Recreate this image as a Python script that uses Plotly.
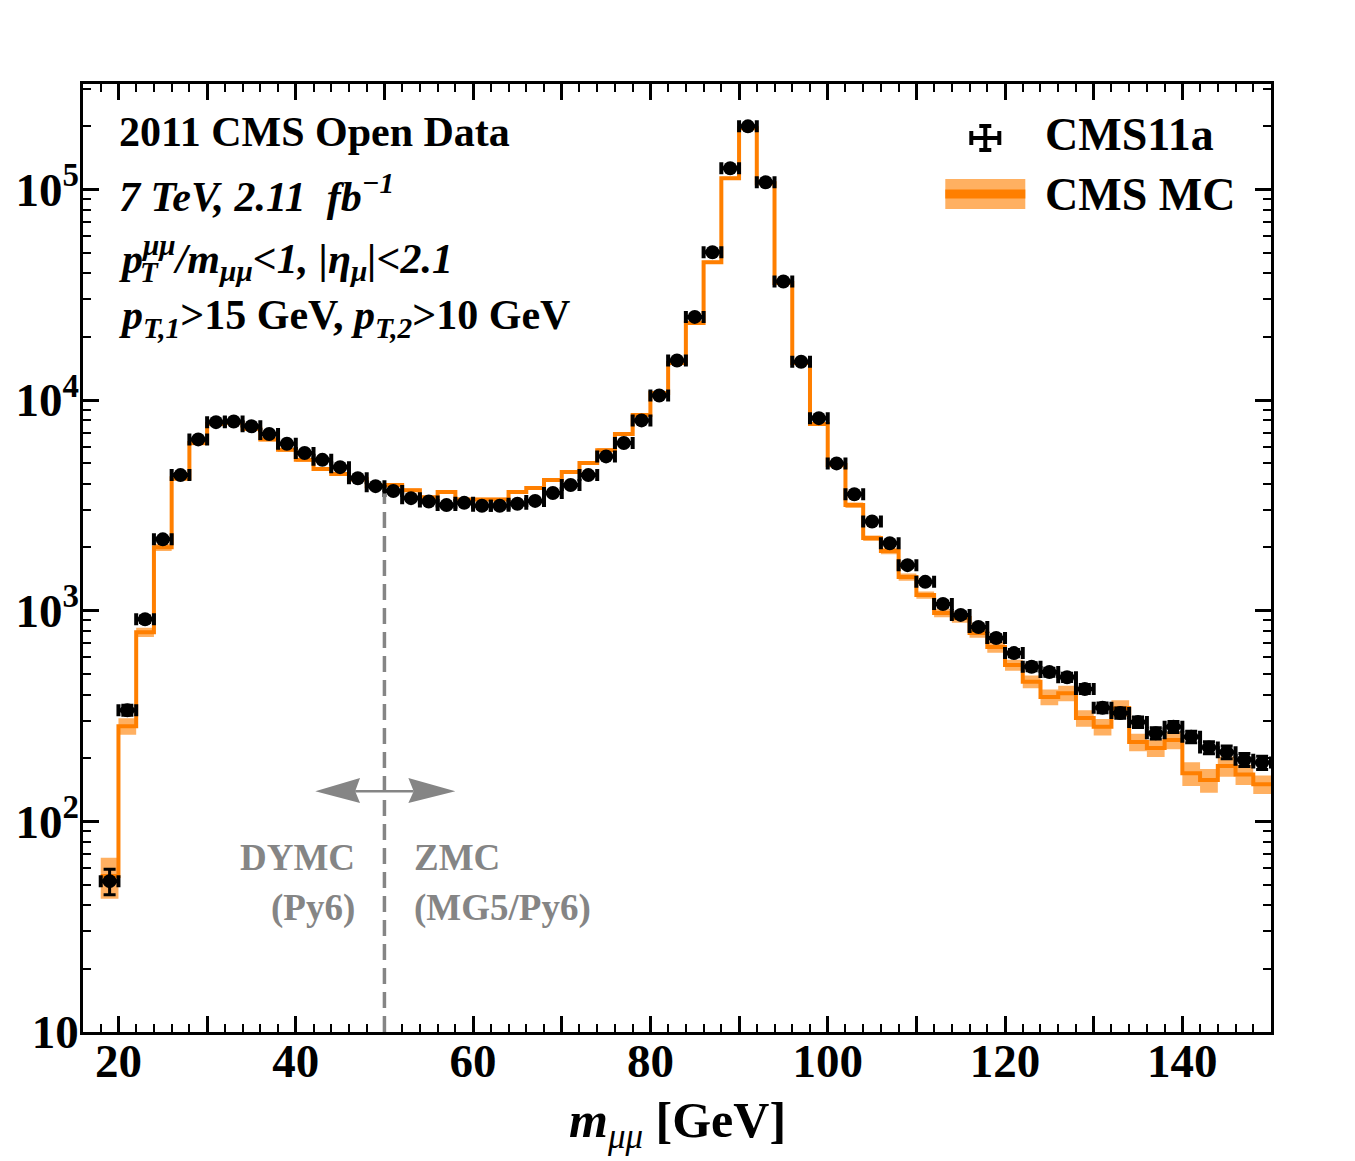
import numpy as np
import plotly.graph_objects as go

# ---------------- data ----------------
bin_edges = list(range(18, 152, 2))          # 18 ... 150 GeV, 2 GeV bins
bin_centers = [e + 1 for e in bin_edges[:-1]]

data_counts = [52, 337, 910, 2180, 4400, 6500, 7850, 7900, 7500, 6900,
               6200, 5600, 5200, 4800, 4250, 3900, 3700, 3420, 3300, 3170,
               3250, 3150, 3150, 3220, 3320, 3620, 3950, 4400, 5400, 6250,
               8000, 10500, 15400, 24800, 50300, 126000, 199000, 108000, 36500, 15200,
               8200, 5000, 3570, 2650, 2090, 1645, 1370, 1075, 955, 836,
               742, 629, 542, 511, 483, 425, 346, 327, 296, 262,
               281, 252, 224, 213, 196, 190]

mc_counts = [55, 283, 790, 2000, 4250, 6250, 7700, 7800, 7300, 6500,
             5800, 5200, 4700, 4450, 4200, 3900, 3950, 3730, 3450, 3660,
             3370, 3370, 3370, 3660, 3820, 4170, 4550, 5020, 5780, 6890,
             8480, 10800, 15000, 23200, 45100, 113000, 195000, 107000, 35900, 15000,
             7700, 4910, 3170, 2210, 1920, 1445, 1186, 975, 923, 783,
             672, 552, 460, 389, 406, 309, 281, 345, 238, 223,
             243, 169, 157, 183, 167, 150]

mc_rel_err = [0.22, 0.09, 0.05, 0.04, 0.03, 0.025, 0.02, 0.02, 0.02, 0.02,
              0.02, 0.02, 0.02, 0.02, 0.02, 0.02, 0.02, 0.02, 0.02, 0.02,
              0.02, 0.02, 0.02, 0.02, 0.02, 0.02, 0.02, 0.02, 0.02, 0.02,
              0.015, 0.015, 0.015, 0.015, 0.015, 0.015, 0.015, 0.015, 0.015, 0.02,
              0.02, 0.025, 0.03, 0.03, 0.035, 0.04, 0.04, 0.045, 0.05, 0.05,
              0.06, 0.06, 0.07, 0.085, 0.085, 0.09, 0.09, 0.09, 0.095, 0.095,
              0.095, 0.13, 0.13, 0.11, 0.11, 0.10]

data_err = [np.sqrt(v) for v in data_counts]

x_ticks_major = list(range(20, 150, 10))
x_tick_text = [str(v) if v % 20 == 0 else "" for v in x_ticks_major]
x_ticks_minor = [v for v in range(18, 151, 2) if v % 10 != 0]
y_ticks_major = [10, 100, 1000, 10000, 100000]
y_tick_text = ["10", "10<sup>2</sup>", "10<sup>3</sup>", "10<sup>4</sup>", "10<sup>5</sup>"]
y_ticks_minor = [m * 10 ** k for k in range(1, 6) for m in range(2, 10)]

split_mass = 50
split_top = 3600

FONT = "Liberation Serif, Times New Roman, serif"
ORANGE = "#FF7F00"
BAND = "rgba(255,127,0,0.62)"
GRAY = "#858585"

# ---------------- figure ----------------
mc = np.array(mc_counts, dtype=float)
err = np.array(mc_rel_err)
step_x = bin_edges
lo = list(mc * (1 - err)) + [mc[-1] * (1 - err[-1])]
hi = list(mc * (1 + err)) + [mc[-1] * (1 + err[-1])]
mid = list(mc) + [mc[-1]]

fig = go.Figure()
fig.add_trace(go.Scatter(x=step_x, y=lo, mode="lines", line=dict(width=0, shape="hv"),
                         showlegend=False, hoverinfo="skip"))
fig.add_trace(go.Scatter(x=step_x, y=hi, mode="lines", line=dict(width=0, shape="hv"),
                         fill="tonexty", fillcolor=BAND, showlegend=False, hoverinfo="skip"))
fig.add_trace(go.Scatter(x=step_x, y=mid, mode="lines", line=dict(width=4, shape="hv", color=ORANGE),
                         name="CMS MC", showlegend=False))
fig.add_trace(go.Scatter(
    x=bin_centers, y=data_counts, mode="markers", name="CMS11a", showlegend=False,
    marker=dict(color="black", size=14),
    error_x=dict(type="constant", value=1, color="black", thickness=4, width=6),
    error_y=dict(type="data", array=data_err, color="black", thickness=3, width=6),
))

shapes = []
# dashed separation line
shapes.append(dict(type="line", xref="x", yref="y", x0=split_mass, x1=split_mass, y0=10, y1=split_top,
                   line=dict(color=GRAY, width=3.5, dash="16px,8px")))
# double arrow
ay = 139
ay_hi, ay_lo = 160.5, 122.2
shapes.append(dict(type="line", xref="x", yref="y", x0=46.7, x1=53.3, y0=ay, y1=ay,
                   line=dict(color=GRAY, width=2.5)))
shapes.append(dict(type="path", xref="x", yref="y",
                   path=f"M 42.2,{ay} L 47.25,{ay_hi} L 46.7,{ay} L 47.25,{ay_lo} Z",
                   fillcolor=GRAY, line=dict(width=0)))
shapes.append(dict(type="path", xref="x", yref="y",
                   path=f"M 58.0,{ay} L 52.7,{ay_hi} L 53.3,{ay} L 52.7,{ay_lo} Z",
                   fillcolor=GRAY, line=dict(width=0)))

# legend (paper coords) : plot area x 83..1271, y 84..1032
L, R, T, B = 82.7, 1270.7, 84.0, 1032.0
def px(x):
    return (x - L) / (R - L)
def py(y):
    return (B - y) / (B - T)

# data legend icon
cx, cy = 985, 138
shapes += [
    dict(type="line", xref="paper", yref="paper", x0=px(cx - 14), x1=px(cx + 14), y0=py(cy), y1=py(cy),
         line=dict(color="black", width=4)),
    dict(type="line", xref="paper", yref="paper", x0=px(cx), x1=px(cx), y0=py(cy - 12), y1=py(cy + 12),
         line=dict(color="black", width=4)),
    dict(type="line", xref="paper", yref="paper", x0=px(cx - 14), x1=px(cx - 14), y0=py(cy - 7), y1=py(cy + 7),
         line=dict(color="black", width=4)),
    dict(type="line", xref="paper", yref="paper", x0=px(cx + 14), x1=px(cx + 14), y0=py(cy - 7), y1=py(cy + 7),
         line=dict(color="black", width=4)),
    dict(type="line", xref="paper", yref="paper", x0=px(cx - 6), x1=px(cx + 6), y0=py(cy - 12), y1=py(cy - 12),
         line=dict(color="black", width=4)),
    dict(type="line", xref="paper", yref="paper", x0=px(cx - 6), x1=px(cx + 6), y0=py(cy + 12), y1=py(cy + 12),
         line=dict(color="black", width=4)),
]
# MC legend icon
shapes.append(dict(type="rect", xref="paper", yref="paper", x0=px(945), x1=px(1025), y0=py(209), y1=py(179),
                   fillcolor=BAND, line=dict(width=0)))
shapes.append(dict(type="line", xref="paper", yref="paper", x0=px(945), x1=px(1025), y0=py(194), y1=py(194),
                   line=dict(color=ORANGE, width=9)))

annotations = []
def txt(x, y, s, size, xanchor="left", color="black"):
    annotations.append(dict(x=px(x), y=py(y), xref="paper", yref="paper", text=s, showarrow=False,
                            xanchor=xanchor, yanchor="middle",
                            font=dict(family=FONT, size=size, color=color)))

txt(1043, 134, "<b>CMS11a</b>", 46)
txt(1043, 195, "<b>CMS MC</b>", 46)

txt(117, 132, "<b>2011 CMS Open Data</b>", 42)
txt(117, 193, "<b><i>7 TeV, 2.11  fb<sup>−1</sup></i></b>", 42)
txt(117, 258, "<b><i>p<sup>μμ</sup>/m<sub>μμ</sub>&lt;1, |η<sub>μ</sub>|&lt;2.1</i></b>", 42)
txt(138, 272, "<b><i>T</i></b>", 29)
txt(117, 318, "<b><i>p<sub>T,1</sub></i>&gt;15 GeV, <i>p<sub>T,2</sub></i>&gt;10 GeV</b>", 42)

# x-axis title
txt((L + R) / 2, 1124, "<b><i>m</i></b><sub><i>μμ</i></sub> <b>[GeV]</b>", 50, xanchor="center")

# region labels
for s, xm, yv, anchor in [("<b>DYMC</b>", 46.9, 67, "right"), ("<b>(Py6)</b>", 46.9, 38.8, "right"),
                          ("<b>ZMC</b>", 53.1, 67, "left"), ("<b>(MG5/Py6)</b>", 53.1, 38.8, "left")]:
    annotations.append(dict(x=xm, y=np.log10(yv), xref="x", yref="y", text=s, showarrow=False,
                            xanchor=anchor, yanchor="middle",
                            font=dict(family=FONT, size=37, color=GRAY)))

axis_common = dict(showline=True, linecolor="black", linewidth=2.5, mirror="allticks",
                   ticks="inside", ticklen=16, tickwidth=2.5, tickcolor="black",
                   showgrid=False, zeroline=False,
                   tickfont=dict(family=FONT, size=47, color="black", weight="bold"))

fig.update_layout(
    width=1355, height=1161,
    margin=dict(l=83, r=84, t=84, b=129),
    paper_bgcolor="white", plot_bgcolor="white",
    showlegend=False,
    shapes=shapes, annotations=annotations,
    xaxis=dict(range=[16, 150], tickmode="array", tickvals=x_ticks_major, ticktext=x_tick_text,
               ticklabelstandoff=-14,
               minor=dict(tickmode="array", tickvals=x_ticks_minor, ticks="inside", ticklen=8,
                          tickwidth=2, tickcolor="black", showgrid=False),
               **axis_common),
    yaxis=dict(type="log", range=[1, 5.5], tickmode="array", tickvals=y_ticks_major, ticktext=y_tick_text,
               ticklabelstandoff=-8,
               minor=dict(tickmode="array", tickvals=y_ticks_minor, ticks="inside", ticklen=8,
                          tickwidth=2, tickcolor="black", showgrid=False),
               **axis_common),
)

fig.write_html("out.html")
